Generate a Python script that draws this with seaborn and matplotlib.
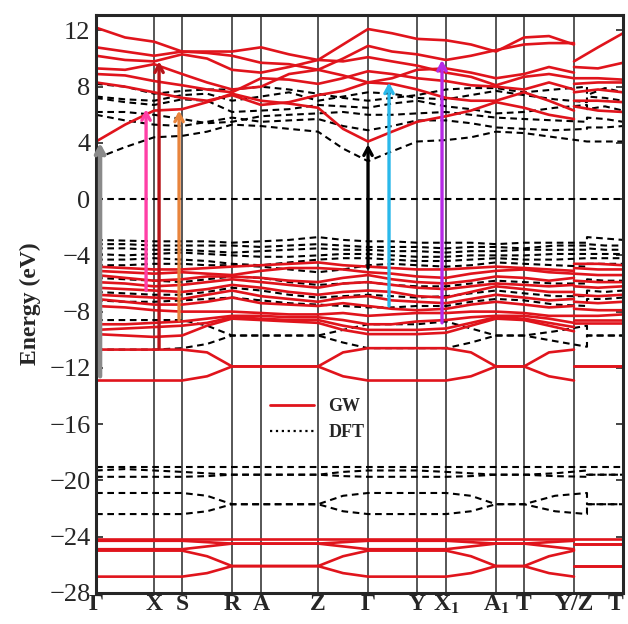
import numpy as np
import pandas as pd
import matplotlib
matplotlib.use("Agg")
import matplotlib.pyplot as plt
from matplotlib.lines import Line2D
import seaborn as sns

# --- k-path (distance along the path, arbitrary units) ---
k_nodes = [0, 58, 86, 136, 165, 222, 272, 321, 350, 400, 428, 478, 527]
k_labels = ['Γ', 'X', 'S', 'R', 'A', 'Z', 'Γ', 'Y', 'X$_\\mathbf{1}$', 'A$_\\mathbf{1}$', 'T', 'Y/Z', 'T']
# sample points: nodes plus midpoints; Y and Z share the same position
k_gw = [0, 29, 58, 86, 111, 136, 165, 193, 222, 247, 272, 296, 321, 350, 375, 400, 428, 453, 478, 478, 502, 527]
k_dft = [0, 29, 58, 86, 111, 136, 165, 193, 222, 247, 272, 296, 321, 350, 375, 400, 428, 459, 491, 491, 509, 527]

# --- GW bands (eV) ---
gw_c1 = [4.1, 5.3, 6.3, 6.4, 6.9, 7.5, 7.0, 6.8, 6.5, 5.0, 4.1, 4.8, 5.5, 5.9, 6.3, 6.9, 6.5, 6.0, 5.7, 6.6, 6.3, 6.2]
gw_c2 = [8.3, 8.0, 7.6, 7.2, 7.0, 7.4, 6.7, 6.9, 7.4, 7.7, 8.3, 8.2, 7.8, 7.2, 7.0, 7.0, 7.6, 7.0, 6.3, 7.0, 7.0, 6.9]
gw_c3 = [8.9, 8.8, 8.4, 8.1, 7.8, 7.6, 8.6, 8.5, 8.2, 8.6, 9.1, 8.9, 8.6, 8.4, 8.1, 8.0, 7.8, 8.3, 7.8, 7.6, 7.8, 7.6]
gw_c4 = [9.3, 9.2, 9.6, 8.9, 8.3, 7.8, 8.0, 8.9, 9.2, 8.8, 8.3, 8.6, 9.2, 9.3, 9.0, 8.6, 8.9, 9.4, 9.0, 8.2, 8.3, 8.3]
gw_c5 = [10.2, 9.9, 9.8, 10.3, 10.0, 9.2, 9.0, 9.4, 9.9, 9.8, 10.1, 9.8, 9.5, 9.0, 8.7, 8.1, 8.7, 8.9, 8.6, 8.6, 8.6, 8.5]
gw_c6 = [10.8, 10.5, 10.2, 10.5, 10.4, 10.2, 9.7, 9.6, 9.2, 10.0, 10.9, 10.5, 10.3, 9.9, 10.2, 10.6, 11.0, 11.1, 11.1, 9.4, 9.3, 9.7]
gw_c7 = [12.2, 11.5, 11.2, 10.5, 10.5, 10.5, 10.8, 10.3, 9.9, 11.0, 12.1, 11.8, 11.4, 11.3, 11.0, 10.5, 11.5, 11.6, 11.0, 9.8, 10.8, 11.8]

gw_v1 = [-4.8, -4.9, -5.0, -5.0, -4.9, -4.8, -4.7, -4.6, -4.5, -4.7, -4.8, -4.9, -5.0, -5.0, -4.9, -4.8, -4.9, -5.0, -5.1, -4.6, -4.6, -4.7]
gw_v2 = [-5.1, -5.2, -5.3, -5.2, -5.3, -5.4, -5.1, -4.9, -4.9, -5.0, -5.2, -5.3, -5.5, -5.6, -5.3, -5.1, -5.0, -5.2, -5.3, -4.9, -5.0, -5.0]
gw_v3 = [-5.4, -5.6, -5.8, -5.7, -5.5, -5.5, -5.6, -5.8, -5.9, -5.6, -5.4, -5.7, -5.9, -6.0, -5.8, -5.5, -5.6, -5.8, -5.6, -5.3, -5.4, -5.4]
gw_v4 = [-5.9, -6.0, -6.2, -6.1, -5.9, -5.7, -5.9, -6.1, -6.3, -6.0, -5.9, -6.1, -6.3, -6.4, -6.2, -6.0, -6.1, -6.2, -6.1, -5.8, -5.9, -5.9]
gw_v5 = [-6.3, -6.4, -6.5, -6.6, -6.4, -6.1, -6.3, -6.6, -6.8, -6.6, -6.5, -6.6, -6.9, -7.0, -6.6, -6.2, -6.4, -6.6, -6.6, -6.2, -6.3, -6.2]
gw_v6 = [-6.8, -6.9, -7.0, -7.1, -6.8, -6.5, -6.9, -7.1, -7.3, -7.0, -6.9, -7.2, -7.3, -7.4, -7.1, -6.8, -7.0, -7.2, -7.1, -6.8, -6.9, -6.8]
gw_v7 = [-7.1, -7.3, -7.5, -7.5, -7.3, -7.0, -7.4, -7.5, -7.6, -7.4, -7.6, -7.8, -7.9, -7.8, -7.5, -7.3, -7.5, -7.7, -7.6, -7.3, -7.4, -7.3]
gw_v8 = [-7.6, -7.7, -7.9, -8.0, -8.0, -8.0, -8.1, -8.2, -8.2, -8.1, -8.3, -8.2, -8.1, -8.1, -8.0, -8.0, -8.1, -8.3, -8.3, -7.8, -7.9, -7.9]
gw_v9 = [-8.9, -8.9, -8.8, -8.7, -8.5, -8.3, -8.3, -8.4, -8.4, -8.6, -8.9, -8.9, -8.7, -8.6, -8.4, -8.3, -8.3, -8.5, -8.8, -8.3, -8.3, -8.2]
gw_v10 = [-9.3, -9.2, -9.1, -9.0, -8.8, -8.4, -8.5, -8.6, -8.6, -9.0, -9.3, -9.3, -9.3, -9.2, -8.8, -8.4, -8.5, -8.8, -9.1, -8.6, -8.6, -8.6]
gw_v11 = [-9.6, -9.7, -9.8, -9.7, -9.0, -8.5, -8.6, -8.7, -8.8, -9.3, -9.6, -9.6, -9.6, -9.5, -9.0, -8.5, -8.6, -9.0, -9.4, -8.8, -8.8, -8.8]
gw_l1 = [-10.7, -10.7, -10.7, -10.7, -10.9, -11.9, -11.9, -11.9, -11.9, -10.9, -10.6, -10.6, -10.6, -10.6, -10.9, -11.9, -11.9, -10.9, -10.7, -11.9, -11.9, -11.9]
gw_l2 = [-12.9, -12.9, -12.9, -12.9, -12.6, -11.9, -11.9, -11.9, -11.9, -12.6, -12.9, -12.9, -12.9, -12.9, -12.6, -11.9, -11.9, -12.6, -12.9, -11.9, -11.9, -11.9]
gw_b1 = [-24.15] * 22
gw_b2 = [-24.3, -24.3, -24.3, -24.3, -24.4, -24.5, -24.5, -24.5, -24.5, -24.4, -24.3, -24.3, -24.3, -24.3, -24.4, -24.5, -24.5, -24.4, -24.3, -24.5, -24.5, -24.5]
gw_b3 = [-24.9, -24.9, -24.9, -24.9, -24.7, -24.5, -24.5, -24.5, -24.5, -24.7, -24.9, -24.9, -24.9, -24.9, -24.7, -24.5, -24.5, -24.7, -24.9, -24.5, -24.5, -24.5]
gw_b4 = [-25.0, -25.0, -25.0, -25.0, -25.4, -26.1, -26.1, -26.1, -26.1, -25.4, -25.0, -25.0, -25.0, -25.0, -25.4, -26.1, -26.1, -25.4, -25.0, -26.1, -26.1, -26.1]
gw_b5 = [-26.85, -26.85, -26.85, -26.85, -26.6, -26.1, -26.1, -26.1, -26.1, -26.6, -26.85, -26.85, -26.85, -26.85, -26.6, -26.1, -26.1, -26.6, -26.85, -26.1, -26.1, -26.1]

# --- DFT bands (eV) ---
dft_c1 = [2.9, 3.7, 4.4, 4.5, 4.8, 5.3, 5.2, 5.0, 4.8, 3.6, 2.7, 3.4, 4.1, 4.2, 4.4, 4.8, 4.7, 4.4, 4.1, 4.1, 4.1, 4.1]
dft_c2 = [6.0, 5.6, 5.3, 5.2, 5.5, 5.8, 5.5, 5.6, 5.7, 5.2, 4.9, 5.2, 5.6, 5.6, 5.4, 5.1, 5.0, 4.9, 5.0, 5.1, 5.1, 5.2]
dft_c3 = [6.2, 6.2, 6.0, 5.7, 5.4, 5.5, 5.9, 6.0, 6.1, 6.2, 6.0, 6.0, 6.1, 6.2, 6.0, 5.8, 5.7, 5.6, 5.5, 5.8, 5.7, 5.5]
dft_c4 = [7.2, 6.9, 6.7, 7.1, 7.0, 6.2, 6.3, 6.4, 6.7, 6.6, 6.5, 6.8, 7.0, 6.6, 6.4, 6.1, 6.2, 6.5, 6.7, 6.4, 6.6, 6.3]
dft_c5 = [7.3, 7.1, 7.0, 7.4, 7.5, 7.0, 7.3, 7.6, 7.0, 7.3, 7.6, 7.5, 7.2, 7.1, 7.4, 7.7, 7.4, 7.1, 6.9, 7.3, 7.2, 7.0]
dft_c6 = [8.2, 8.0, 7.5, 7.7, 7.8, 7.8, 8.0, 7.8, 7.5, 7.2, 7.0, 7.2, 7.4, 7.8, 7.9, 7.9, 7.6, 7.8, 8.0, 7.4, 7.9, 7.6]

dft_v1 = [-2.9, -2.95, -3.0, -3.0, -3.0, -3.1, -3.0, -2.9, -2.7, -2.9, -3.0, -3.0, -3.1, -3.1, -3.1, -3.2, -3.1, -3.1, -3.1, -2.7, -2.8, -2.9]
dft_v2 = [-3.2, -3.2, -3.3, -3.3, -3.3, -3.3, -3.4, -3.3, -3.2, -3.3, -3.4, -3.4, -3.4, -3.5, -3.4, -3.4, -3.5, -3.3, -3.3, -3.2, -3.3, -3.3]
dft_v3 = [-3.5, -3.5, -3.6, -3.6, -3.7, -3.8, -3.7, -3.6, -3.5, -3.6, -3.6, -3.7, -3.7, -3.8, -3.7, -3.7, -3.6, -3.6, -3.6, -3.5, -3.6, -3.6]
dft_v4 = [-3.9, -4.0, -3.9, -3.8, -3.9, -4.0, -4.1, -4.1, -4.0, -3.9, -3.9, -4.0, -4.1, -4.1, -4.0, -4.0, -4.0, -3.9, -3.9, -3.9, -3.9, -3.9]
dft_v5 = [-4.3, -4.3, -4.2, -4.3, -4.4, -4.6, -4.7, -4.5, -4.3, -4.2, -4.2, -4.3, -4.4, -4.4, -4.3, -4.2, -4.3, -4.3, -4.2, -4.2, -4.2, -4.2]
dft_v6 = [-4.7, -4.7, -4.6, -4.6, -4.7, -4.7, -4.8, -5.0, -5.2, -5.0, -4.7, -4.6, -4.7, -4.8, -4.7, -4.5, -4.6, -4.7, -4.8, -4.6, -4.6, -4.6]
dft_v7 = [-5.6, -5.7, -5.8, -5.9, -5.7, -5.5, -5.6, -5.9, -6.1, -6.0, -5.9, -6.1, -6.2, -6.2, -6.0, -5.8, -5.9, -6.0, -6.0, -5.7, -5.8, -5.8]
dft_v8 = [-6.6, -6.7, -6.8, -6.8, -6.6, -6.3, -6.5, -6.8, -7.0, -6.9, -6.8, -6.9, -7.0, -6.9, -6.7, -6.5, -6.7, -6.9, -6.9, -6.5, -6.6, -6.5]
dft_v9 = [-7.2, -7.3, -7.3, -7.2, -7.1, -7.0, -7.2, -7.4, -7.5, -7.6, -7.7, -7.7, -7.6, -7.6, -7.3, -7.1, -7.2, -7.5, -7.6, -7.1, -7.1, -7.0]
dft_v10 = [-8.6, -8.6, -8.6, -8.6, -9.0, -9.7, -9.7, -9.7, -9.7, -9.3, -8.9, -8.9, -8.9, -8.7, -9.2, -9.7, -9.7, -9.4, -9.0, -9.7, -9.7, -9.7]
dft_v11 = [-10.7, -10.7, -10.7, -10.6, -10.3, -9.7, -9.7, -9.7, -9.7, -10.2, -10.6, -10.6, -10.6, -10.6, -10.2, -9.7, -9.7, -10.1, -10.5, -9.7, -9.7, -9.7]
dft_s1 = [-19.05] * 22
dft_s2 = [-19.3, -19.2, -19.3, -19.4, -19.5, -19.6, -19.6, -19.6, -19.6, -19.4, -19.3, -19.3, -19.3, -19.4, -19.5, -19.6, -19.6, -19.5, -19.3, -19.6, -19.6, -19.6]
dft_s3 = [-19.75, -19.75, -19.75, -19.75, -19.7, -19.6, -19.6, -19.6, -19.6, -19.7, -19.75, -19.75, -19.75, -19.75, -19.7, -19.6, -19.6, -19.7, -19.75, -19.6, -19.6, -19.6]
dft_s4 = [-20.9, -20.9, -20.9, -20.9, -21.1, -21.7, -21.7, -21.7, -21.7, -21.1, -20.9, -20.9, -20.9, -20.9, -21.1, -21.7, -21.7, -21.1, -20.9, -21.7, -21.7, -21.7]
dft_s5 = [-22.4, -22.4, -22.4, -22.4, -22.2, -21.7, -21.7, -21.7, -21.7, -22.2, -22.4, -22.4, -22.4, -22.4, -22.2, -21.7, -21.7, -22.2, -22.4, -21.7, -21.7, -21.7]

gw_bands = [gw_c1, gw_c2, gw_c3, gw_c4, gw_c5, gw_c6, gw_c7,
            gw_v1, gw_v2, gw_v3, gw_v4, gw_v5, gw_v6, gw_v7, gw_v8, gw_v9, gw_v10, gw_v11,
            gw_l1, gw_l2, gw_b1, gw_b2, gw_b3, gw_b4, gw_b5]
dft_bands = [dft_c1, dft_c2, dft_c3, dft_c4, dft_c5, dft_c6,
             dft_v1, dft_v2, dft_v3, dft_v4, dft_v5, dft_v6, dft_v7, dft_v8, dft_v9, dft_v10, dft_v11,
             dft_s1, dft_s2, dft_s3, dft_s4, dft_s5]

# --- excitation arrows: position on path, start and end energy ---
arrow_k = [4, 50, 63, 83, 272, 293, 346]
arrow_start = [-12.6, -6.5, -10.6, -8.6, -4.9, -7.6, -8.8]
arrow_end = [4.0, 6.4, 9.8, 6.3, 3.9, 8.3, 9.9]
arrow_colors = ['#8a8a8a', '#ff3fa6', '#b8141a', '#e8843c', '#000000', '#2ab8ea', '#b52ae6']

y_ticks = list(range(-28, 13, 4))

# long tables; the GW path is broken at Y|Z
rows = []
for i, b in enumerate(gw_bands):
    for j, (k, e) in enumerate(zip(k_gw, b)):
        seg = 0 if j <= 18 else 1
        rows.append({'band': f'gw{i}_{seg}', 'k': k, 'E': e})
gw_df = pd.DataFrame(rows)
rows = []
for i, b in enumerate(dft_bands):
    for k, e in zip(k_dft, b):
        rows.append({'band': f'dft{i}', 'k': k, 'E': e})
dft_df = pd.DataFrame(rows)

sns.set_style("ticks")
plt.rcParams['font.family'] = ['Liberation Serif', 'DejaVu Serif']
plt.rcParams['mathtext.fontset'] = 'stix'
plt.rcParams['lines.dashed_pattern'] = [3.2, 2.2]

fig = plt.figure(figsize=(6.28, 6.24), dpi=100)
ax = fig.add_axes([0.153, 0.050, 0.839, 0.926])

gw_red = '#e0141c'
sns.lineplot(data=dft_df, x='k', y='E', units='band', estimator=None, sort=False,
             color='black', linestyle='--', linewidth=1.5, ax=ax, legend=False)
sns.lineplot(data=gw_df, x='k', y='E', units='band', estimator=None, sort=False,
             color=gw_red, linewidth=1.9, ax=ax, legend=False)

for k in k_nodes[1:-1]:
    ax.axvline(k, color='#3a3a3a', lw=1.2, zorder=0.5)
ax.axhline(0, color='black', ls='--', lw=1.5)

for k, y0, y1, c in zip(arrow_k, arrow_start, arrow_end, arrow_colors):
    lw = 3.2 if c == '#8a8a8a' else 2.4
    ax.annotate('', xy=(k, y1), xytext=(k, y0),
                arrowprops=dict(arrowstyle='->,head_length=0.55,head_width=0.3',
                                color=c, lw=lw, shrinkA=0, shrinkB=0))

ax.set_xlim(k_nodes[0], k_nodes[-1])
ax.set_ylim(-28, 13.1)
ax.set_yticks(y_ticks)
ax.set_xticks(k_nodes)
ax.set_xticklabels(k_labels, fontweight='bold', fontsize=17)
ax.get_xticklabels()[-1].set_horizontalalignment('right')
ax.tick_params(axis='x', length=0, pad=1)
ax.tick_params(axis='y', direction='in', length=5, width=1.2, labelsize=19, right=True, pad=4)
ax.set_xlabel('')
ax.set_ylabel('Energy (eV)', fontsize=17, fontweight='bold', labelpad=6)
for s in ax.spines.values():
    s.set_linewidth(2.2)

handles = [Line2D([], [], color=gw_red, lw=2),
           Line2D([], [], color='black', lw=1.6, ls=':')]
ax.legend(handles, ['GW', 'DFT'], loc='center', bbox_to_anchor=(0.42, 0.30),
          frameon=False, prop={'weight': 'bold', 'size': 13}, handlelength=2.4)

fig.savefig('out.png', dpi=100)
